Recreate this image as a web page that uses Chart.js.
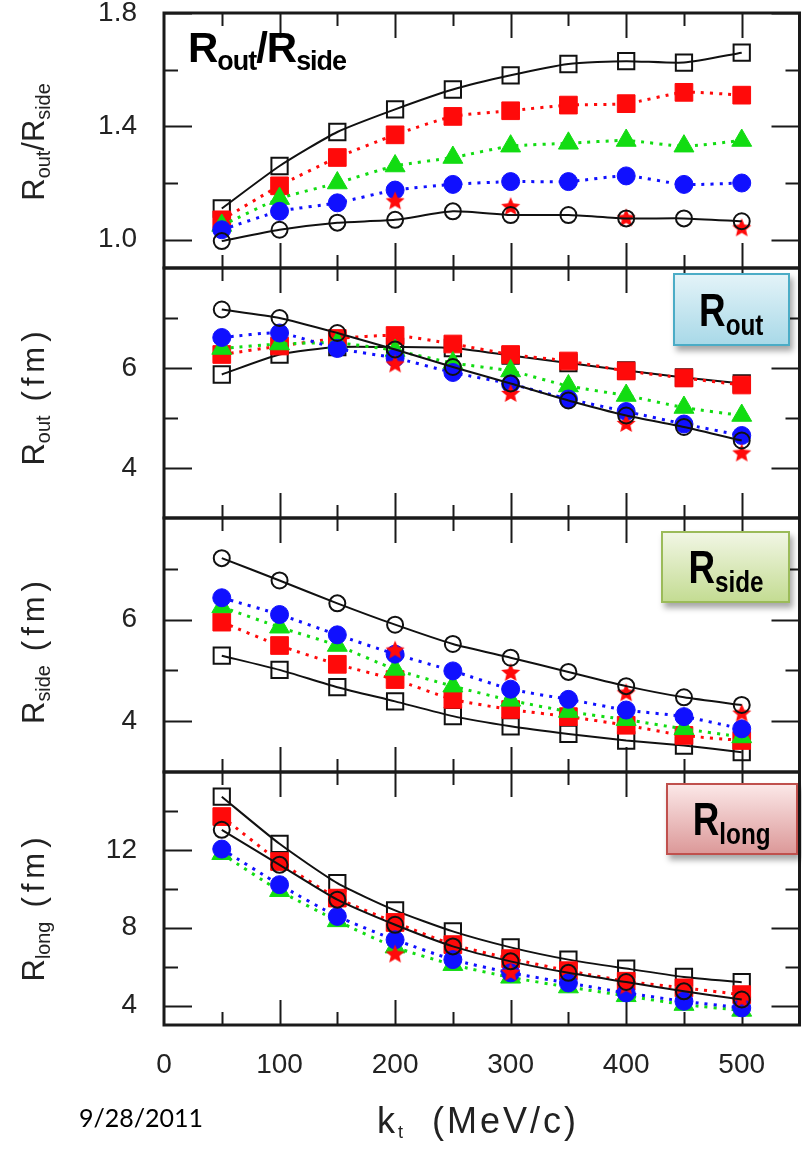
<!DOCTYPE html>
<html>
<head>
<meta charset="utf-8">
<script src="https://cdn.jsdelivr.net/npm/chart.js@4.4.0/dist/chart.umd.min.js"></script>
<style>
  html, body { margin: 0; padding: 0; background: #fff; overflow: hidden; }
  #wrap { position: relative; width: 802px; height: 1151px; overflow: hidden; background: #fff; }
  canvas { position: absolute; left: 0; }
  .ytitle {
    position: absolute; white-space: nowrap; color: #222;
    font-family: "Liberation Sans", Arial, sans-serif; font-size: 31px;
    transform: translate(-50%, -50%) rotate(-90deg);
  }
  .ytitle .fm { letter-spacing: 5px; margin-left: 14px; }
  sub { font-size: 64%; vertical-align: -0.28em; line-height: 0; }
  .tag {
    position: absolute; box-sizing: border-box; border: 2px solid;
    box-shadow: 3px 5px 6px rgba(0,0,0,0.35);
    font-family: "Liberation Sans", Arial, sans-serif; font-weight: bold; color: #000;
    display: flex; align-items: center; justify-content: center;
  }
  .tag span { display: inline-block; font-size: 46px; transform: scaleX(0.8); }
  .tag sub { font-size: 66%; }
</style>
</head>
<body>
<div id="wrap">
  <canvas id="p1" width="813" height="355" style="top:-37px"></canvas>
  <canvas id="p2" width="813" height="350" style="top:218px"></canvas>
  <canvas id="p3" width="813" height="354" style="top:468px"></canvas>
  <canvas id="p4" width="813" height="383" style="top:722px"></canvas>

  <div class="ytitle" style="left:34px; top:142px;">R<sub>out</sub>/R<sub>side</sub></div>
  <div class="ytitle" style="left:34px; top:396px;">R<sub>out</sub><span class="fm">(fm)</span></div>
  <div class="ytitle" style="left:34px; top:650px;">R<sub>side</sub><span class="fm">(fm)</span></div>
  <div class="ytitle" style="left:34px; top:907px;">R<sub>long</sub><span class="fm">(fm)</span></div>

  <div style="position:absolute; left:188px; top:24px; font-family:'Liberation Sans',Arial,sans-serif; font-weight:bold; font-size:42px; color:#000; letter-spacing:-1px;">R<sub>out</sub>/R<sub>side</sub></div>

  <div class="tag" style="left:673px; top:273px; width:117px; height:73px; border-color:#4bacc6; background:linear-gradient(#e3f3f8,#a9d9e8);"><span>R<sub>out</sub></span></div>
  <div class="tag" style="left:661px; top:531px; width:129px; height:72px; border-color:#9bbb59; background:linear-gradient(#f1f6e4,#c4dc93);"><span>R<sub>side</sub></span></div>
  <div class="tag" style="left:666px; top:783px; width:132px; height:72px; border-color:#c0504d; background:linear-gradient(#fbe7e7,#dc9999);"><span>R<sub>long</sub></span></div>

  <div style="position:absolute; left:79px; top:1102px; font-family:Lato,'Open Sans',sans-serif; font-size:25px; color:#000;">9/28/2011</div>
  <div style="position:absolute; left:377px; top:1100px; font-family:'Liberation Sans',Arial,sans-serif; font-size:36px; color:#222; letter-spacing:3px; white-space:nowrap;">k<sub style="font-size:50%">t</sub>&nbsp;&nbsp;(MeV/c)</div>
</div>

<script>
// k_t values (MeV/c)
const kt = [50, 100, 150, 200, 250, 300, 350, 400, 450, 500];
const ktStar = [200, 300, 400, 500];

// Rout/Rside
const ratioOpenSq   = [1.11, 1.26, 1.38, 1.46, 1.53, 1.58, 1.62, 1.63, 1.625, 1.66];
const ratioRedSq    = [1.07, 1.19, 1.29, 1.37, 1.435, 1.455, 1.475, 1.48, 1.52, 1.51];
const ratioGreenTri = [1.05, 1.145, 1.20, 1.26, 1.29, 1.33, 1.34, 1.35, 1.33, 1.35];
const ratioBlueCirc = [1.035, 1.10, 1.13, 1.175, 1.195, 1.205, 1.205, 1.225, 1.195, 1.20];
const ratioStar     = [1.135, 1.115, 1.075, 1.04];
const ratioOpenCirc = [0.995, 1.035, 1.06, 1.07, 1.10, 1.087, 1.087, 1.075, 1.075, 1.065];

// Rout (fm)
const routOpenSq   = [5.87, 6.27, 6.42, 6.42, 6.40, 6.25, 6.10, 5.95, 5.81, 5.69];
const routRedSq    = [6.27, 6.44, 6.59, 6.65, 6.48, 6.27, 6.14, 5.94, 5.80, 5.66];
const routGreenTri = [6.39, 6.48, 6.50, 6.35, 6.10, 5.94, 5.64, 5.45, 5.21, 5.05];
const routBlueCirc = [6.61, 6.70, 6.39, 6.20, 5.91, 5.68, 5.38, 5.13, 4.88, 4.65];
const routStar     = [6.07, 5.48, 4.88, 4.29];
const routOpenCirc = [7.17, 7.00, 6.70, 6.37, 6.02, 5.69, 5.35, 5.05, 4.82, 4.55];

// Rside (fm)
const rsideOpenSq   = [5.29, 5.01, 4.67, 4.39, 4.10, 3.90, 3.75, 3.62, 3.52, 3.39];
const rsideRedSq    = [5.95, 5.49, 5.12, 4.82, 4.43, 4.23, 4.09, 3.92, 3.72, 3.62];
const rsideGreenTri = [6.25, 5.85, 5.49, 5.02, 4.69, 4.41, 4.19, 4.03, 3.85, 3.69];
const rsideBlueCirc = [6.43, 6.10, 5.70, 5.32, 4.99, 4.63, 4.43, 4.22, 4.09, 3.85];
const rsideStar     = [5.39, 4.95, 4.55, 4.15];
const rsideOpenCirc = [7.21, 6.77, 6.32, 5.90, 5.52, 5.25, 4.97, 4.69, 4.47, 4.32];

// Rlong (fm)
const rlongOpenSq   = [14.73, 12.31, 10.29, 8.89, 7.81, 6.99, 6.36, 5.90, 5.47, 5.20];
const rlongRedSq    = [13.71, 11.40, 9.52, 8.27, 7.13, 6.41, 5.79, 5.25, 4.91, 4.56];
const rlongGreenTri = [11.8, 9.9, 8.35, 7.0, 6.1, 5.45, 4.95, 4.5, 4.05, 3.75];
const rlongBlueCirc = [12.04, 10.21, 8.58, 7.38, 6.36, 5.68, 5.16, 4.65, 4.22, 3.88];
const rlongStar     = [6.62, 5.68, 4.99, 4.31];
const rlongOpenCirc = [13.03, 11.23, 9.44, 8.15, 7.04, 6.27, 5.68, 5.21, 4.73, 4.31];

// axis ticks
const xLabelTicks = [0, 100, 200, 300, 400, 500];
const xMajorTicks = [100, 200, 300, 400, 500];
const xMinorTicks = [50, 150, 250, 350, 450];

const RED = '#ff0a0a', GREEN = '#12dc12', BLUE = '#1010ff', BLACK = '#111';

function makeStar(r, color) {
  const c = document.createElement('canvas');
  c.width = c.height = 2 * r + 2;
  const g = c.getContext('2d');
  g.fillStyle = color;
  g.beginPath();
  for (let i = 0; i < 10; i++) {
    const rad = i % 2 ? r * 0.45 : r;
    const ang = -Math.PI / 2 + i * Math.PI / 5;
    g.lineTo(r + 1 + rad * Math.cos(ang), r + 1 + rad * Math.sin(ang));
  }
  g.closePath();
  g.fill();
  return c;
}
const starImg = makeStar(10, RED);

const pts = (xs, ys) => xs.map((x, i) => ({ x, y: ys[i] }));

function buildDatasets(openSq, redSq, greenTri, blueCirc, star, openCirc) {
  const dotted = { borderDash: [3, 6], borderWidth: 3, tension: 0.2 };
  return [
    { data: pts(kt, openCirc), borderColor: BLACK, backgroundColor: 'rgba(0,0,0,0)', borderWidth: 2, tension: 0.2,
      pointStyle: 'circle', pointRadius: 8, pointBorderWidth: 2, pointBorderColor: BLACK, order: 0 },
    { data: pts(ktStar, star), showLine: false, pointStyle: starImg, pointRadius: 10, order: 1 },
    { data: pts(kt, blueCirc), borderColor: BLUE, backgroundColor: BLUE, ...dotted,
      pointStyle: 'circle', pointRadius: 9, pointBorderWidth: 1, order: 2 },
    { data: pts(kt, greenTri), borderColor: GREEN, backgroundColor: GREEN, ...dotted,
      pointStyle: 'triangle', pointRadius: 11.5, pointBorderWidth: 1, order: 3 },
    { data: pts(kt, redSq), borderColor: RED, backgroundColor: RED, ...dotted,
      pointStyle: 'rect', pointRadius: 12.5, pointBorderWidth: 1, order: 4 },
    { data: pts(kt, openSq), borderColor: BLACK, backgroundColor: 'rgba(0,0,0,0)', borderWidth: 2, tension: 0.2,
      pointStyle: 'rect', pointRadius: 11.5, pointBorderWidth: 2, pointBorderColor: BLACK, order: 5 },
  ];
}

// frame and inward tick marks on all four sides
const frameTicks = {
  id: 'frameTicks',
  beforeDatasetsDraw(chart, args, opts) {
    const { ctx, chartArea: a, scales: { x, y } } = chart;
    ctx.save();
    ctx.strokeStyle = '#1a1a1a';
    ctx.lineWidth = 2;
    ctx.beginPath();
    const xt = (list, len) => list.forEach(v => {
      const px = Math.round(x.getPixelForValue(v)) + 0.5;
      ctx.moveTo(px, a.top); ctx.lineTo(px, a.top + len);
      ctx.moveTo(px, a.bottom); ctx.lineTo(px, a.bottom - len);
    });
    const yt = (list, len) => list.forEach(v => {
      const py = Math.round(y.getPixelForValue(v)) + 0.5;
      ctx.moveTo(a.left, py); ctx.lineTo(a.left + len, py);
      ctx.moveTo(a.right, py); ctx.lineTo(a.right - len, py);
    });
    xt(xMajorTicks, 25);
    xt(xMinorTicks, 13);
    yt(opts.major, 28);
    yt(opts.minor, 14);
    ctx.stroke();
    ctx.lineWidth = 3;
    ctx.strokeRect(a.left, a.top, a.right - a.left, a.bottom - a.top);
    ctx.restore();
  }
};

function makePanel(id, datasets, yMin, yMax, labelTicks, minorTicks, decimals, showX) {
  new Chart(document.getElementById(id), {
    type: 'line',
    data: { datasets },
    options: {
      responsive: false,
      animation: false,
      layout: { padding: { top: 50, bottom: showX ? 0 : 50, left: 0, right: 4 } },
      plugins: { legend: { display: false }, tooltip: { enabled: false }, frameTicks: { major: labelTicks, minor: minorTicks } },
      scales: {
        x: {
          type: 'linear', min: 0, max: 550, display: showX,
          grid: { display: false, drawTicks: false },
          border: { display: false },
          afterBuildTicks: s => { s.ticks = xLabelTicks.map(v => ({ value: v })); },
          afterFit: s => { s.height = showX ? 80 : 0; },
          ticks: { padding: 23, color: '#222', font: { family: 'Liberation Sans', size: 28 }, maxRotation: 0 }
        },
        y: {
          min: yMin, max: yMax,
          grid: { display: false, drawTicks: false },
          border: { display: false },
          afterBuildTicks: s => { s.ticks = labelTicks.map(v => ({ value: v })); },
          afterFit: s => { s.width = 164; },
          ticks: {
            padding: 27, color: '#222', font: { family: 'Liberation Sans', size: 28 },
            callback: v => v.toFixed(decimals)
          }
        }
      }
    },
    plugins: [frameTicks]
  });
}

makePanel('p1', buildDatasets(ratioOpenSq, ratioRedSq, ratioGreenTri, ratioBlueCirc, ratioStar, ratioOpenCirc),
  0.9, 1.8, [1.0, 1.4, 1.8], [1.2, 1.6], 1, false);
makePanel('p2', buildDatasets(routOpenSq, routRedSq, routGreenTri, routBlueCirc, routStar, routOpenCirc),
  3, 8, [4, 6], [5, 7], 0, false);
makePanel('p3', buildDatasets(rsideOpenSq, rsideRedSq, rsideGreenTri, rsideBlueCirc, rsideStar, rsideOpenCirc),
  3, 8, [4, 6], [5, 7], 0, false);
makePanel('p4', buildDatasets(rlongOpenSq, rlongRedSq, rlongGreenTri, rlongBlueCirc, rlongStar, rlongOpenCirc),
  3, 16, [4, 8, 12], [6, 10, 14], 0, true);
</script>
</body>
</html>
